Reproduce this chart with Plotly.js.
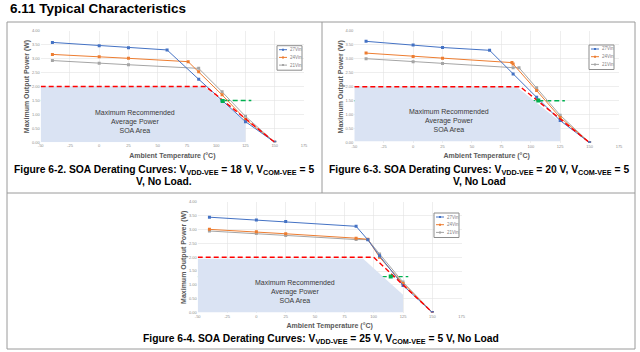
<!DOCTYPE html>
<html><head><meta charset="utf-8">
<script src="https://cdn.plot.ly/plotly-3.0.1.min.js"></script>
<style>html,body{margin:0;padding:0;background:#fff}#chart{width:640px;height:352px}</style>
</head><body><div id="chart"></div>
<script>
// ---------- data ----------
const seriesNames = ['27Vin', '24Vin', '21Vin'];
const xTickVals = [-50, -25, 0, 25, 50, 75, 100, 125, 150, 175];
const xTickText = ['-50', '-25', '0', '25', '50', '75', '100', '125', '150', '175'];
const yTickVals = [0, 0.5, 1, 1.5, 2, 2.5, 3, 3.5, 4];
const yTickText = ['0.00', '0.50', '1.00', '1.50', '2.00', '2.50', '3.00', '3.50', '4.00'];

// Figure 6-2 (VDD-VEE = 18 V)
const f62Temp27 = [-40, 0, 25, 58, 85, 105, 125, 150];
const f62Pow27  = [3.58, 3.46, 3.39, 3.31, 2.26, 1.50, 0.74, 0];
const f62Temp24 = [-40, 0, 25, 76, 85, 105, 125, 150];
const f62Pow24  = [3.15, 3.07, 3.01, 2.89, 2.53, 1.70, 0.82, 0];
const f62Temp21 = [-40, 0, 25, 85, 105, 125, 150];
const f62Pow21  = [2.93, 2.83, 2.78, 2.65, 1.81, 0.93, 0];
const f62LimitT = [-50, 91, 150];
const f62LimitP = [2.0, 2.0, 0];
const f62GreenT = [-50, 130];
const f62GreenP = [1.5, 1.5];
const f62MarkT = [105.5];
const f62MarkP = [1.48];
const f62SoaT = [-50, -50, 90, 125, 125];
const f62SoaP = [0, 2.0, 2.0, 0.74, 0];

// Figure 6-3 (VDD-VEE = 20 V)
const f63Temp27 = [-40, 0, 25, 65, 85, 105, 125, 150];
const f63Pow27  = [3.62, 3.49, 3.40, 3.30, 2.45, 1.62, 0.79, 0];
const f63Temp24 = [-40, 0, 25, 84, 85, 105, 125, 150];
const f63Pow24  = [3.20, 3.08, 3.02, 2.86, 2.81, 1.86, 0.90, 0];
const f63Temp21 = [-40, 0, 25, 85, 90, 105, 125, 150];
const f63Pow21  = [3.00, 2.89, 2.83, 2.68, 2.68, 1.96, 0.98, 0];
const f63LimitT = [-50, 91, 150];
const f63LimitP = [2.0, 2.0, 0];
const f63GreenT = [-50, 129];
const f63GreenP = [1.5, 1.5];
const f63MarkT = [106.4];
const f63MarkP = [1.51];
const f63SoaT = [-50, -50, 88, 125, 125];
const f63SoaP = [0.05, 2.0, 2.0, 0.75, 0.05];

// Figure 6-4 (VDD-VEE = 25 V)
const f64Temp27 = [-40, 0, 25, 85, 95, 105, 125, 150];
const f64Pow27  = [3.45, 3.35, 3.29, 3.12, 2.63, 2.05, 0.98, 0];
const f64Temp24 = [-40, 0, 25, 85, 95, 105, 125, 150];
const f64Pow24  = [3.01, 2.92, 2.85, 2.69, 2.65, 2.00, 1.05, 0];
const f64Temp21 = [-40, 0, 25, 85, 95, 105, 125, 150];
const f64Pow21  = [2.95, 2.86, 2.79, 2.64, 2.64, 2.12, 1.10, 0];
const f64LimitT = [-50, 100, 150];
const f64LimitP = [2.0, 2.0, 0];
const f64GreenT = [-50, 129.5];
const f64GreenP = [1.3, 1.3];
const f64MarkT = [114.5];
const f64MarkP = [1.30];
const f64SoaT = [-50, -50, 91, 125, 125];
const f64SoaP = [0, 1.95, 1.95, 0.64, 0];

const soaLabel = ['Maximum Recommended', 'Average Power', 'SOA Area'];
const captions = [
  ['Figure 6-2. SOA Derating Curves: V<sub>VDD-VEE</sub> = 18 V, V<sub>COM-VEE</sub> = 5', 'V, No Load.'],
  ['Figure 6-3. SOA Derating Curves: V<sub>VDD-VEE</sub> = 20 V, V<sub>COM-VEE</sub> = 5', 'V, No Load'],
  ['Figure 6-4. SOA Derating Curves: V<sub>VDD-VEE</sub> = 25 V, V<sub>COM-VEE</sub> = 5 V, No Load']
];

// ---------- styling / layout ----------
const W = 640, H = 352;
const px = v => v / W;
const py = v => 1 - v / H;
const FONT = 'Liberation Sans, Arial, sans-serif';
const seriesColors = ['#4472C4', '#ED7D31', '#A5A5A5'];
const soaFill = '#DAE3F3';

const figs = [
  {ax: '', T: [f62Temp27, f62Temp24, f62Temp21], P: [f62Pow27, f62Pow24, f62Pow21],
   lim: [f62LimitT, f62LimitP], grn: [f62GreenT, f62GreenP], mk: [f62MarkT, f62MarkP], soa: [f62SoaT, f62SoaP],
   xd: [px(40.7), px(304)], yd: [py(142.3), py(30.7)], soaText: [31, 0.75], leg: [277, 45.7]},
  {ax: '2', T: [f63Temp27, f63Temp24, f63Temp21], P: [f63Pow27, f63Pow24, f63Pow21],
   lim: [f63LimitT, f63LimitP], grn: [f63GreenT, f63GreenP], mk: [f63MarkT, f63MarkP], soa: [f63SoaT, f63SoaP],
   xd: [px(354.3), px(619)], yd: [py(142.7), py(30.7)], soaText: [30.8, 0.79], leg: [589, 45]},
  {ax: '3', T: [f64Temp27, f64Temp24, f64Temp21], P: [f64Pow27, f64Pow24, f64Pow21],
   lim: [f64LimitT, f64LimitP], grn: [f64GreenT, f64GreenP], mk: [f64MarkT, f64MarkP], soa: [f64SoaT, f64SoaP],
   xd: [px(197.7), px(461.7)], yd: [py(312.5), py(202)], soaText: [33, 0.75], leg: [434, 213]}
];

const traces = [];
const layout = {
  width: W, height: H, margin: {l: 0, r: 0, t: 0, b: 0},
  paper_bgcolor: '#fff', plot_bgcolor: '#fff', showlegend: false,
  font: {family: FONT}, shapes: [], annotations: []
};

figs.forEach(f => {
  const xr = 'x' + f.ax, yr = 'y' + f.ax;
  const base = {xaxis: xr, yaxis: yr, hoverinfo: 'skip', showlegend: false};
  traces.push(Object.assign({type: 'scatter', mode: 'lines', x: f.grn[0], y: f.grn[1],
    line: {color: '#00B050', width: 1.4, dash: '5px,3px'}}, base));
  traces.push(Object.assign({type: 'scatter', mode: 'lines', x: f.soa[0], y: f.soa[1],
    fill: 'toself', fillcolor: soaFill, line: {width: 0, color: soaFill}}, base));
  for (let i = 2; i >= 0; i--) {
    traces.push(Object.assign({type: 'scatter', mode: 'lines+markers', name: seriesNames[i],
      x: f.T[i], y: f.P[i], line: {color: seriesColors[i], width: 1},
      marker: {symbol: 'square', size: 3, color: seriesColors[i]}}, base));
  }
  traces.push(Object.assign({type: 'scatter', mode: 'lines', x: f.lim[0], y: f.lim[1],
    line: {color: '#FF0000', width: 1.4, dash: '5px,3px'}}, base));
  traces.push(Object.assign({type: 'scatter', mode: 'markers', x: f.mk[0], y: f.mk[1],
    marker: {symbol: 'square', size: 4, color: '#00B050'}}, base));

  const axKey = f.ax;
  layout['xaxis' + axKey] = {
    domain: f.xd, anchor: yr, range: [-50, 175], tickvals: xTickVals, ticktext: xTickText,
    showgrid: true, gridcolor: '#e2e2e2', gridwidth: 0.6, zeroline: false, showline: false, ticks: '',
    tickfont: {size: 4, color: '#8c8c8c'}, fixedrange: true,
    title: {text: 'Ambient Temperature (°C)', font: {size: 7, color: '#595959', weight: 'bold'}, standoff: 5}
  };
  layout['yaxis' + axKey] = {
    domain: f.yd, anchor: xr, range: [0, 4], tickvals: yTickVals, ticktext: yTickText,
    showgrid: true, gridcolor: '#e2e2e2', gridwidth: 0.6, zeroline: false, showline: false, ticks: '',
    tickfont: {size: 4, color: '#8c8c8c'}, fixedrange: true,
    title: {text: 'Maximum Output Power (W)', font: {size: 7, color: '#595959', weight: 'bold'}, standoff: 1}
  };
  // SOA text (one multi-line label)
  layout.annotations.push({xref: xr, yref: yr, x: f.soaText[0], y: f.soaText[1], text: soaLabel.join('<br>'),
    showarrow: false, font: {size: 7, color: '#3a3a3a'}, xanchor: 'center', yanchor: 'middle', align: 'center'});
  // legend (drawn manually to match the tiny Excel-style legend box)
  const lx = f.leg[0], ly = f.leg[1];
  layout.shapes.push({type: 'rect', xref: 'paper', yref: 'paper', x0: px(lx), x1: px(lx + 25),
    y0: py(ly + 24.5), y1: py(ly), line: {color: '#8c8c8c', width: 1}, fillcolor: '#fff'});
  seriesNames.forEach((nm, k) => {
    const yy = ly + 4 + k * 7.7;
    layout.shapes.push({type: 'line', xref: 'paper', yref: 'paper', x0: px(lx + 2), x1: px(lx + 10),
      y0: py(yy), y1: py(yy), line: {color: seriesColors[k], width: 1}});
    layout.shapes.push({type: 'rect', xref: 'paper', yref: 'paper', x0: px(lx + 5), x1: px(lx + 7),
      y0: py(yy + 1), y1: py(yy - 1), line: {width: 0}, fillcolor: seriesColors[k]});
    layout.annotations.push({xref: 'paper', yref: 'paper', x: px(lx + 10.5), y: py(yy), text: nm,
      showarrow: false, xanchor: 'left', yanchor: 'middle', font: {size: 4.5, color: '#7f7f7f'}});
  });
});

// frame lines
const frameColor = '#9a9a9a';
[[7, 22, 635, 22], [7, 193, 635, 193], [7, 349, 635, 349], [7, 22, 7, 349], [635, 22, 635, 349], [322, 22, 322, 193]]
  .forEach(l => layout.shapes.push({type: 'line', xref: 'paper', yref: 'paper',
    x0: px(l[0]), y0: py(l[1]), x1: px(l[2]), y1: py(l[3]), line: {color: frameColor, width: 1}}));

// page title and captions
const capFont = {size: 10.3, color: '#000', family: FONT};
layout.annotations.push({xref: 'paper', yref: 'paper', x: px(8), y: py(8.5), xanchor: 'left', yanchor: 'middle',
  text: '<b>6.11 Typical Characteristics</b>', showarrow: false, font: {size: 13.5, color: '#000', family: FONT}});
const capPos = [[[164, 170.7], [164, 181]], [[479, 170.7], [479, 181]], [[321, 339]]];
captions.forEach((c, i) => c.forEach((t, j) => layout.annotations.push({xref: 'paper', yref: 'paper',
  x: px(capPos[i][j][0]), y: py(capPos[i][j][1]), xanchor: 'center', yanchor: 'middle',
  text: '<b>' + t + '</b>', showarrow: false, font: capFont})));

Plotly.newPlot('chart', traces, layout, {staticPlot: true, displayModeBar: false});
</script></body></html>
